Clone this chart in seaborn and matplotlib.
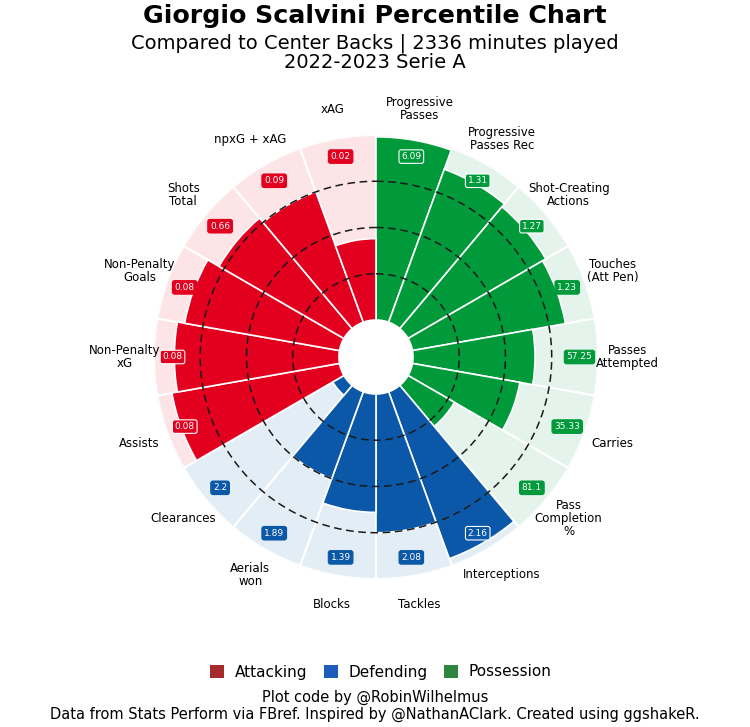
import numpy as np
import matplotlib
matplotlib.use("Agg")
import matplotlib.pyplot as plt
from matplotlib.patches import Patch
import seaborn as sns

# stats, clockwise from the top
labels = ["Progressive\nPasses", "Progressive\nPasses Rec", "Shot-Creating\nActions",
          "Touches\n(Att Pen)", "Passes\nAttempted", "Carries", "Pass\nCompletion\n%",
          "Interceptions", "Tackles", "Blocks", "Aerials\nwon", "Clearances",
          "Assists", "Non-Penalty\nxG", "Non-Penalty\nGoals", "Shots\nTotal",
          "npxG + xAG", "xAG"]
percentiles = [99, 88, 86, 84, 66, 59, 29,
               96, 75, 64, 50, 7,
               92, 89, 85, 78, 75, 44]
per90 = ["6.09", "1.31", "1.27", "1.23", "57.25", "35.33", "81.1",
         "2.16", "2.08", "1.39", "1.89", "2.2",
         "0.08", "0.08", "0.08", "0.66", "0.09", "0.02"]
groups = ["Possession"] * 7 + ["Defending"] * 5 + ["Attacking"] * 6

bar_col = {"Attacking": "#e3001f", "Defending": "#0b58a8", "Possession": "#009a3b"}
bg_col = {"Attacking": "#fde4e6", "Defending": "#e3edf5", "Possession": "#e4f3eb"}
legend_col = {"Attacking": "#a52a2a", "Defending": "#1c5cbc", "Possession": "#2e8540"}

sns.set_theme(style="white")
plt.rcParams["font.family"] = ["DejaVu Sans"]
plt.rcParams["text.color"] = "black"

fig = plt.figure(figsize=(7.5, 7.27), dpi=100)
ax = fig.add_axes([0.2053, 0.2036, 0.592, 0.6107], projection="polar")
ax.set_theta_zero_location("N")
ax.set_theta_direction(-1)

n = len(labels)
width = 2 * np.pi / n
theta = (np.arange(n) + 0.5) * width

ax.bar(theta, 100, width=width, bottom=0,
       color=[bg_col[g] for g in groups], edgecolor="white", linewidth=1.5, zorder=1)
ax.bar(theta, percentiles, width=width, bottom=0,
       color=[bar_col[g] for g in groups], edgecolor="white", linewidth=1.2, zorder=2)

circ = np.linspace(0, 2 * np.pi, 400)
for r in [25, 50, 75]:
    ax.plot(circ, [r] * len(circ), ls=(0, (5, 3)), color="#1a1a1a", lw=1.1, zorder=3)

for t, p, v, g in zip(theta, percentiles, per90, groups):
    edge = "white" if p >= 86 else bar_col[g]
    ax.text(t, 90, v, ha="center", va="center", fontsize=6.5, color="white", zorder=5,
            bbox=dict(boxstyle="round,pad=0.25", fc=bar_col[g], ec=edge, lw=0.8))

for t, lab in zip(theta, labels):
    ax.text(t, 116, lab, ha="center", va="center", fontsize=8.5, color="black",
            linespacing=1.0)

ax.set_ylim(-20, 100)
ax.set_xticks([])
ax.set_yticks([])
ax.grid(False)
ax.spines["polar"].set_visible(False)
ax.set_facecolor("none")

fig.text(0.5, 1 - 16 / 727, "Giorgio Scalvini Percentile Chart", ha="center", va="center",
         fontsize=18.2, fontweight="bold")
fig.text(0.5, 1 - 43 / 727, "Compared to Center Backs | 2336 minutes played",
         ha="center", va="center", fontsize=14)
fig.text(0.5, 1 - 62 / 727, "2022-2023 Serie A", ha="center", va="center", fontsize=14)

handles = [Patch(facecolor=legend_col[k], edgecolor="none", label=k)
           for k in ["Attacking", "Defending", "Possession"]]
fig.legend(handles=handles, loc="center", bbox_to_anchor=(0.508, 1 - 672 / 727), ncol=3,
           frameon=False, fontsize=11, handlelength=0.9, handleheight=0.9,
           handletextpad=0.7, columnspacing=1.1)

fig.text(0.5, 1 - 697 / 727, "Plot code by @RobinWilhelmus", ha="center", va="center",
         fontsize=10.5)
fig.text(0.5, 1 - 714 / 727,
         "Data from Stats Perform via FBref. Inspired by @NathanAClark. Created using ggshakeR.",
         ha="center", va="center", fontsize=10.5)

fig.savefig("out.png", dpi=100)
